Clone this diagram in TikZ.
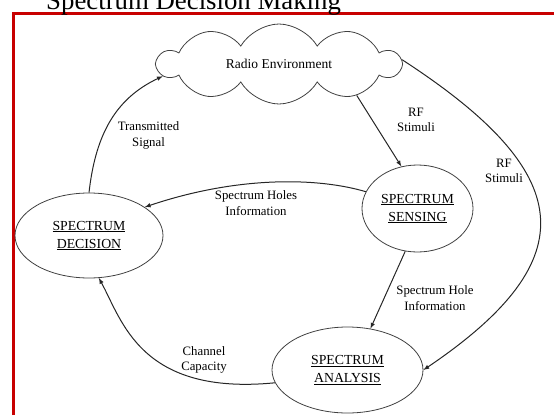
\documentclass[tikz,border=0pt]{standalone}
\usepackage{fontspec}
\setmainfont{Liberation Serif}
\usetikzlibrary{shapes.symbols,shapes.geometric}
\definecolor{framered}{RGB}{200,0,0}

\begin{document}
\begin{tikzpicture}[x=1pt,y=1pt,every node/.style={align=center,inner sep=0pt},stage/.style={draw=black!75,line width=0.8pt,ellipse,font=\fontsize{13.8}{18}\selectfont},flow/.style={draw=black!85,line width=1pt,-latex},lbl/.style={font=\fontsize{12.8}{15.5}\selectfont}]
\useasboundingbox (0,0) rectangle (554,-415);
\draw[framered,line width=3pt] (13.5,-415) -- (13.5,-13.5) -- (554,-13.5);
\node[anchor=base west,font=\fontsize{26.8}{30}\selectfont] (title) at (46,-9.5) {Spectrum Decision Making};
\node[draw=black!75,line width=0.8pt,cloud,cloud puffs=10,cloud puff arc=120,aspect=3,minimum width=242pt,minimum height=80pt,font=\fontsize{13.5}{16}\selectfont] (env) at (279,-64) {Radio Environment};
\node[stage,minimum width=111pt,minimum height=87pt] (sens) at (417.5,-208.5) {\underline{SPECTRUM}\\\underline{SENSING}};
\node[stage,minimum width=148pt,minimum height=85pt] (dec) at (89,-235.5) {\underline{SPECTRUM}\\\underline{DECISION}};
\node[stage,minimum width=151pt,minimum height=86pt] (ana) at (347.5,-370) {\underline{SPECTRUM}\\\underline{ANALYSIS}};
\draw[flow] (dec.north) .. controls (95,-140) and (112,-100) .. (env.186);
\draw[flow] (env.338) -- (sens.111);
\draw[flow] (env.2) .. controls (575,-172) and (589,-258) .. (ana.east);
\draw[flow] (sens.162) .. controls (320,-178) and (240,-175) .. (dec.27);
\draw[flow] (sens.254) -- (ana.61);
\draw[flow] (ana.190) .. controls (140,-396) and (122,-320) .. (dec.283);
\node[lbl] (l1) at (148.5,-135.5) {Transmitted\\Signal};
\node[lbl] (l2) at (416,-120) {RF\\Stimuli};
\node[lbl] (l3) at (504,-171) {RF\\Stimuli};
\node[lbl] (l4) at (256,-203) {Spectrum Holes\\Information};
\node[lbl] (l5) at (435,-298) {Spectrum Hole\\Information};
\node[lbl] (l6) at (204,-360) {Channel\\Capacity};
\end{tikzpicture}
\end{document}
